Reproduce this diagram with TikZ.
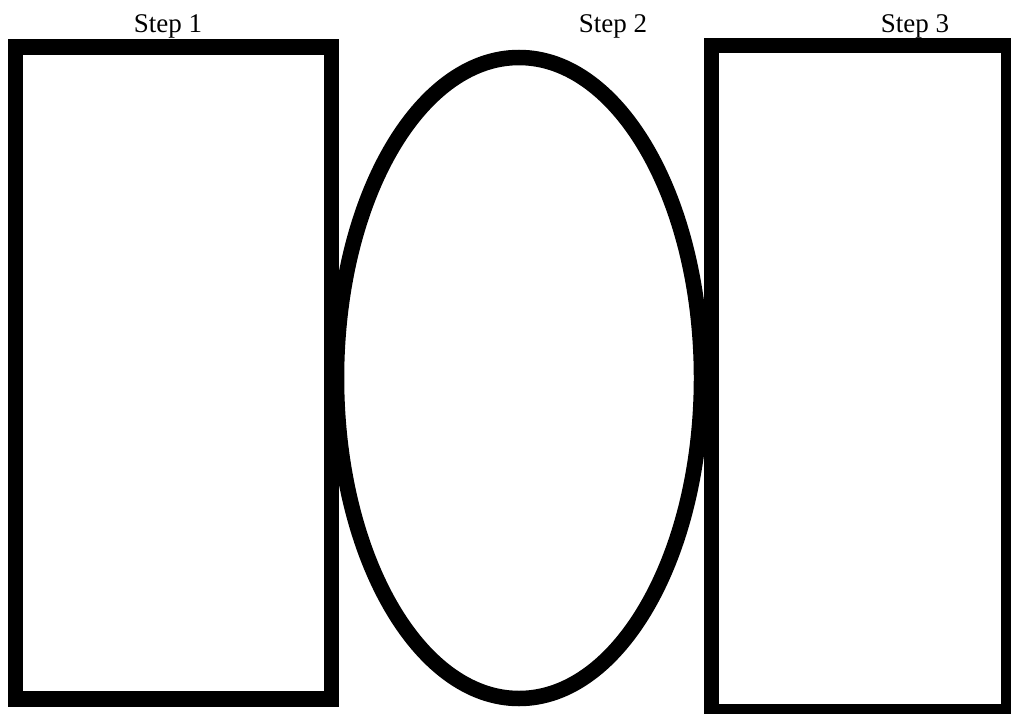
\documentclass[tikz,border=0pt]{standalone}
\usepackage{fontspec}
\setmainfont{Liberation Serif}
\usetikzlibrary{shapes.geometric}
\begin{document}
\begin{tikzpicture}[x=1pt,y=-1pt,
  shapebox/.style={draw=black,line width=15.5pt,inner sep=0pt,outer sep=0pt},
  steplabel/.style={anchor=base,inner sep=0pt,font=\fontsize{27}{32}\selectfont}]
\useasboundingbox (0,0) rectangle (1011,714);
\node[shapebox,rectangle,minimum width=315.6pt,minimum height=652pt] (r1) at (173.5,373) {};
\node[shapebox,ellipse,minimum width=365pt,minimum height=641pt] (e2) at (519,378) {};
\node[shapebox,rectangle,minimum width=297.4pt,minimum height=666pt] (r3) at (860,378.3) {};
\node[steplabel] (l1) at (168,33) {Step 1};
\node[steplabel] (l2) at (613,33) {Step 2};
\node[steplabel] (l3) at (915,33) {Step 3};
\end{tikzpicture}
\end{document}
